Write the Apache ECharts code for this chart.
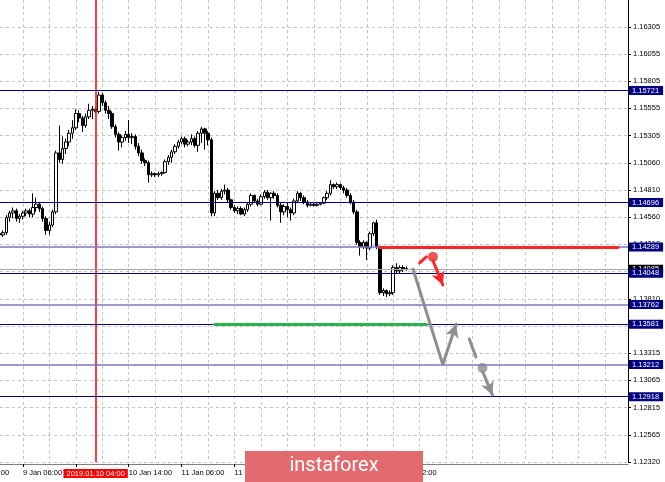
<!DOCTYPE html>
<html><head><meta charset="utf-8">
<script src="https://cdn.jsdelivr.net/npm/echarts@6/dist/echarts.min.js"></script>
<style>html,body{margin:0;padding:0;background:#fff}#c{width:665px;height:482px}</style>
</head><body><div id="c"></div>
<script>
// ---------- DATA ----------
const firstBarTime = '8 Jan 23:00';
const opens = [
1.1441,1.1440,1.1442,1.1456,1.1460,1.1462,1.1455,1.1457,1.1460,1.1462,
1.1459,1.1465,1.1468,1.1464,1.1455,1.1444,1.1449,1.1461,1.1515,1.1509,
1.1519,1.1525,1.1533,1.1538,1.1551,1.1547,1.1540,1.1548,1.1554,1.1555,
1.1553,1.1568,1.1561,1.1554,1.1551,1.1539,1.1532,1.1525,1.1529,1.1532,
1.1529,1.1530,1.1521,1.1515,1.1508,1.1506,1.1495,1.1496,1.1495,1.1496,
1.1497,1.1507,1.1511,1.1516,1.1521,1.1525,1.1528,1.1523,1.1525,1.1528,
1.1522,1.1533,1.1537,1.1533,1.1527,1.1460,1.1478,1.1474,1.1480,1.1481,
1.1472,1.1465,1.1462,1.1464,1.1459,1.1463,1.1468,1.1476,1.1471,1.1468,
1.1475,1.1479,1.1474,1.1478,1.1476,1.1467,1.1461,1.1466,1.1463,1.1460,
1.1471,1.1478,1.1474,1.1470,1.1467,1.1468,1.1467,1.1468,1.1469,1.1474,
1.1478,1.1486,1.1484,1.1486,1.1483,1.1481,1.1476,1.1470,1.1461,1.1433,
1.1429,1.1433,1.1428,1.1441,1.1451,1.1429,1.1387,1.1389,1.1386,1.1387,
1.1410,1.1407,1.1410,1.1409];
const closes = [
1.1440,1.1442,1.1456,1.1460,1.1462,1.1455,1.1457,1.1460,1.1462,1.1459,
1.1465,1.1468,1.1464,1.1455,1.1444,1.1449,1.1461,1.1515,1.1509,1.1519,
1.1525,1.1533,1.1538,1.1551,1.1547,1.1540,1.1548,1.1554,1.1555,1.1553,
1.1568,1.1561,1.1554,1.1551,1.1539,1.1532,1.1525,1.1529,1.1532,1.1529,
1.1530,1.1521,1.1515,1.1508,1.1506,1.1495,1.1496,1.1495,1.1496,1.1497,
1.1507,1.1511,1.1516,1.1521,1.1525,1.1528,1.1523,1.1525,1.1528,1.1522,
1.1533,1.1537,1.1533,1.1527,1.1460,1.1478,1.1474,1.1480,1.1481,1.1472,
1.1465,1.1462,1.1464,1.1459,1.1463,1.1468,1.1476,1.1471,1.1468,1.1475,
1.1479,1.1474,1.1478,1.1476,1.1467,1.1461,1.1466,1.1463,1.1460,1.1471,
1.1478,1.1474,1.1470,1.1467,1.1468,1.1467,1.1468,1.1469,1.1474,1.1478,
1.1486,1.1484,1.1486,1.1483,1.1481,1.1476,1.1470,1.1461,1.1433,1.1429,
1.1433,1.1428,1.1441,1.1451,1.1429,1.1387,1.1389,1.1386,1.1387,1.1410,
1.1407,1.1410,1.1409,1.14085];
const lows = [
1.1438,1.1438,1.1440,1.1452,1.1455,1.1452,1.1451,1.1454,1.1457,1.1456,
1.1456,1.1461,1.1461,1.1452,1.1440,1.1440,1.1447,1.1459,1.1506,1.1505,
1.1514,1.1521,1.1528,1.1536,1.1543,1.1534,1.1538,1.1546,1.1546,1.1551,
1.1551,1.1558,1.1551,1.1546,1.1537,1.1529,1.1517,1.1520,1.1526,1.1524,
1.1523,1.1518,1.1512,1.1505,1.1503,1.1488,1.1493,1.1493,1.1493,1.1494,
1.1496,1.1504,1.1506,1.1514,1.1519,1.1523,1.1520,1.1521,1.1522,1.1520,
1.1516,1.1524,1.1518,1.1522,1.1457,1.1457,1.1472,1.1472,1.1477,1.1470,
1.1463,1.1460,1.1459,1.1458,1.1457,1.1461,1.1466,1.1469,1.1466,1.1467,
1.1473,1.1472,1.1453,1.1473,1.1465,1.1451,1.1458,1.1456,1.1453,1.1458,
1.1469,1.1471,1.1468,1.1465,1.1466,1.1466,1.1466,1.1467,1.1468,1.1472,
1.1476,1.1482,1.1482,1.1481,1.1478,1.1474,1.1468,1.1459,1.1431,1.1421,
1.1427,1.1417,1.1426,1.1439,1.1427,1.1385,1.1384,1.1383,1.1384,1.1385,
1.1405,1.1405,1.1406,1.1407];
const highs = [
1.1443,1.1444,1.1458,1.1462,1.1465,1.1464,1.1459,1.1462,1.1464,1.1464,
1.1478,1.1474,1.1470,1.1466,1.1457,1.1452,1.1463,1.1517,1.1540,1.1530,
1.1528,1.1536,1.1545,1.1555,1.1554,1.1549,1.1551,1.1560,1.1558,1.1557,
1.1571,1.1570,1.1563,1.1558,1.1553,1.1541,1.1534,1.1531,1.1535,1.1545,
1.1533,1.1532,1.1524,1.1518,1.1510,1.1508,1.1498,1.1497,1.1498,1.1498,
1.1509,1.1513,1.1518,1.1523,1.1527,1.1530,1.1530,1.1527,1.1532,1.1530,
1.1535,1.1539,1.1538,1.1535,1.1529,1.1480,1.1481,1.1482,1.1486,1.1483,
1.1473,1.1467,1.1466,1.1466,1.1465,1.1470,1.1478,1.1477,1.1473,1.1477,
1.1481,1.1481,1.1479,1.1480,1.1478,1.1470,1.1468,1.1470,1.1465,1.1473,
1.1480,1.1479,1.1476,1.1472,1.1469,1.1469,1.1469,1.1470,1.1475,1.1480,
1.1490,1.1487,1.1488,1.1487,1.1485,1.1483,1.1478,1.1472,1.1463,1.1435,
1.1435,1.1434,1.1443,1.1452,1.1454,1.1430,1.1391,1.1390,1.1389,1.1412,
1.1414,1.1412,1.1412,1.1411];

const levelValues = [1.15721, 1.14696, 1.14289, 1.14048, 1.13762, 1.13581, 1.13212, 1.12918];
const bidPrice = 1.14085;
const yTickLabels = ['1.12320','1.12565','1.12815','1.13065','1.13315','1.13560','1.13810','1.14060',
  '1.14310','1.14560','1.14810','1.15060','1.15305','1.15555','1.15805','1.16055','1.16305'];
const crossTime = '10 Jan 04:00';
const crossLabel = '2019.01.10 04:00';

// drawn objects: [time, price]
const redLevel   = [['15 Jan 18:00', 1.14289], ['18 Jan 18:00', 1.14289]];
const greenLevel = [['11 Jan 16:00', 1.13581], ['16 Jan 08:00', 1.13581]];
const grayPath   = [['16 Jan 04:00', 1.14085], ['16 Jan 13:00', 1.13212], ['16 Jan 17:00', 1.13581]];
const redTick    = [['16 Jan 06:00', 1.14143], ['16 Jan 08:00', 1.14198]];
const redDot     = ['16 Jan 10:00', 1.14198];
const redArrow   = [['16 Jan 10:00', 1.14165], ['16 Jan 13:00', 1.13941]];
const grayDash   = [['16 Jan 21:00', 1.13447], ['16 Jan 23:00', 1.13282]];
const grayDot    = ['17 Jan 01:00', 1.13180];
const grayArrow  = [['17 Jan 01:00', 1.13150], ['17 Jan 04:00', 1.12934]];

// ---------- BUILD ----------
const months = ['Jan','Feb','Mar','Apr','May','Jun','Jul','Aug','Sep','Oct','Nov','Dec'];
const categories = [];
let t = Date.UTC(2019, 0, 8, 14);
while (categories.length < 200) {
  const d = new Date(t);
  const dow = d.getUTCDay();
  if (dow !== 0 && dow !== 6) {
    categories.push(d.getUTCDate() + ' ' + months[d.getUTCMonth()] + ' ' + String(d.getUTCHours()).padStart(2, '0') + ':00');
  }
  t += 3600000;
}
const first = categories.indexOf(firstBarTime);
const lastIdx = first + opens.length - 1;
const candleData = categories.map((c, k) => {
  const i = k - first;
  return (i >= 0 && i < opens.length) ? [opens[i], closes[i], lows[i], highs[i]] : '-';
});

const yMin = 1.12320;
const yStep = (1.16305 - 1.12320) / 16;
const yMax = 1.16550;

const lightSet = new Set([1.14289, 1.13762, 1.13212]);
const FONT = 'Liberation Sans, Arial, sans-serif';

function levelLine(v, color, width, bg) {
  return {
    yAxis: v,
    lineStyle: { color: color, width: width, type: 'solid' },
    label: { show: true, position: 'end', distance: 1, formatter: v.toFixed(5),
      backgroundColor: bg, color: '#fff', fontSize: 7.5, fontFamily: FONT, padding: [1, 4, 0, 3] }
  };
}
function seg(p1, p2, color, arrow) {
  return [
    { coord: p1, symbol: 'none', lineStyle: { color: color, width: 3, type: 'solid', cap: 'round' }, label: { show: false } },
    { coord: p2, symbol: arrow ? 'arrow' : 'none', symbolSize: arrow ? [10, 13] : 0 }
  ];
}

const mlData = [];
mlData.push(levelLine(bidPrice, '#a8a8a8', 1, '#000000'));
levelValues.forEach(v => {
  mlData.push(levelLine(v, lightSet.has(v) ? '#7878c0' : '#000080', lightSet.has(v) ? 1.5 : 1, '#000080'));
});
mlData.push(seg(redLevel[0], redLevel[1], '#ff2424', false));
mlData.push(seg(greenLevel[0], greenLevel[1], '#2bb34f', false));
mlData.push(seg(grayPath[0], grayPath[1], '#8e8e8e', false));
mlData.push(seg(grayPath[1], grayPath[2], '#8e8e8e', true));
mlData.push(seg(redTick[0], redTick[1], '#ff2424', false));
mlData.push(seg(redArrow[0], redArrow[1], '#ff2424', true));
mlData.push(seg(grayDash[0], grayDash[1], '#8e8e8e', false));
mlData.push(seg(grayArrow[0], grayArrow[1], '#8e8e8e', true));

const showLabel = (idx) => idx % 16 === 0 && idx <= lastIdx;

const chart = echarts.init(document.getElementById('c'), null, { renderer: 'canvas' });
chart.setOption({
  animation: false,
  backgroundColor: '#ffffff',
  grid: { left: -30, right: 37, top: 0, bottom: 20, containLabel: false, outerBoundsMode: 'none' },
  xAxis: {
    type: 'category', data: categories, boundaryGap: false, offset: 2,
    axisLine: { show: true, lineStyle: { color: '#808080', width: 1 } },
    axisTick: { show: true, length: 3, interval: (i) => showLabel(i), lineStyle: { color: '#000' } },
    axisLabel: { interval: (i) => showLabel(i), align: 'left', fontSize: 7.5, fontFamily: FONT, color: '#000', margin: 5 },
    splitLine: { show: true, interval: 7, lineStyle: { color: '#c4c4c4', type: [3, 3], width: 1 } }
  },
  yAxis: {
    type: 'value', position: 'right', min: yMin, max: yMax, interval: yStep, scale: true,
    axisLine: { show: true, lineStyle: { color: '#000', width: 1 } },
    axisTick: { show: true, length: 3, lineStyle: { color: '#000' } },
    axisLabel: {
      margin: 5, fontSize: 7.5, fontFamily: FONT, color: '#000', showMaxLabel: false,
      formatter: function (v) {
        const k = Math.round((v - yMin) / yStep);
        if (k < 0 || k >= yTickLabels.length || Math.abs(v - (yMin + k * yStep)) > yStep * 0.05) return '';
        return yTickLabels[k];
      }
    },
    splitLine: { show: true, showMaxLine: false, lineStyle: { color: '#c4c4c4', type: [3, 3], width: 1 } }
  },
  series: [
    {
      type: 'line', data: [], silent: true, color: '#ff0000', z: 3,
      markLine: {
        silent: true, symbol: ['none', 'none'], animation: false,
        lineStyle: { color: '#ff1010', width: 1.6, type: 'solid' },
        label: { show: true, position: 'start', distance: 7, formatter: crossLabel, backgroundColor: '#ff0000',
          color: '#fff', fontSize: 7.5, fontFamily: FONT, padding: [1, 3, 0, 3] },
        data: [{ xAxis: crossTime }]
      }
    },
    {
      type: 'candlestick', data: candleData, barWidth: 3,
      itemStyle: { color: '#ffffff', color0: '#000000', borderColor: '#000000', borderColor0: '#000000', borderWidth: 1 },
      markLine: { silent: true, symbol: ['none', 'none'], animation: false, precision: 5, data: mlData }
    },
    {
      type: 'scatter', symbol: 'circle', symbolSize: 10, silent: true,
      data: [{ value: redDot, itemStyle: { color: '#ea2a2a' } }, { value: grayDot, itemStyle: { color: '#8e8e8e' } }]
    }
  ],
  graphic: [
    { type: 'rect', x: 245, y: 451, shape: { width: 178, height: 31 }, style: { fill: '#e36a6e' }, z: 100 },
    { type: 'text', x: 334, y: 466, z: 101,
      style: { text: 'instaforex', fill: '#ffffff', fontSize: 20, fontFamily: 'Roboto, Open Sans, sans-serif', align: 'center', verticalAlign: 'middle' } }
  ]
});
</script>
</body></html>
